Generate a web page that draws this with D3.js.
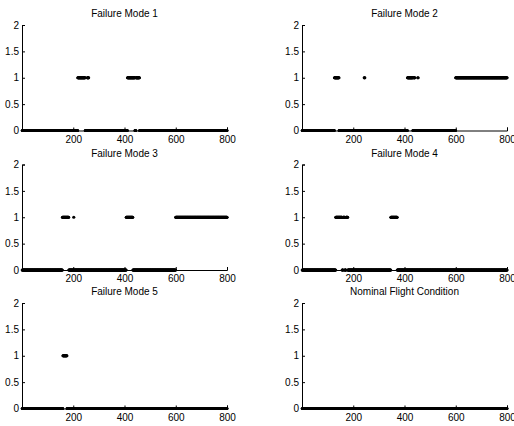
<!DOCTYPE html>
<html>
<head>
<meta charset="utf-8">
<script src="https://cdn.jsdelivr.net/npm/d3@7"></script>
<style>
  body { margin: 0; background: #fff; }
  svg { display: block; font-family: Arial, "Liberation Sans", sans-serif; }
</style>
</head>
<body>
<div id="chart"></div>
<script>
// samples 1..800, each is 0 or 1 ; ranges below are where the value reads 1
var sampleCount = 800;
var titles = ["Failure Mode 1", "Failure Mode 2", "Failure Mode 3",
              "Failure Mode 4", "Failure Mode 5", "Nominal Flight Condition"];
var mode1On = [[218, 246], [255, 260], [412, 440], [445, 458]];
var mode2On = [[127, 144], [243, 245], [412, 432], [436, 440], [452, 453], [600, 800]];
var mode3On = [[158, 182], [202, 202], [407, 432], [600, 800]];
var mode4On = [[132, 156], [161, 166], [172, 178], [347, 371]];
var mode5On = [[160, 175]];
var nominalOn = [];
var xTicks = [200, 400, 600, 800];
var yTicks = [0, 0.5, 1, 1.5, 2];

var width = 514, height = 426;
var colX = [22, 302], plotW = 205;
var rowY = [25, 164.5, 303], plotH = 105.5;

var svg = d3.select("#chart").append("svg")
  .attr("width", width)
  .attr("height", height);

function series(ranges) {
  var out = [];
  for (var i = 1; i <= sampleCount; i++) {
    var on = ranges.some(function (r) { return i >= r[0] && i <= r[1]; });
    out.push({ x: i, y: on ? 1 : 0 });
  }
  return out;
}

var allModes = [mode1On, mode2On, mode3On, mode4On, mode5On, nominalOn];

allModes.forEach(function (ranges, k) {
  var left = colX[k % 2], top = rowY[Math.floor(k / 2)];
  var x = d3.scaleLinear().domain([0, sampleCount]).range([0, plotW]);
  var y = d3.scaleLinear().domain([0, 2]).range([plotH, 0]);

  var g = svg.append("g").attr("transform", "translate(" + left + "," + top + ")");

  g.append("text")
    .attr("x", plotW / 2)
    .attr("y", -8)
    .attr("text-anchor", "middle")
    .attr("font-size", 10)
    .text(titles[k]);

  var xAxis = g.append("g")
    .attr("transform", "translate(0," + plotH + ")")
    .call(d3.axisBottom(x).tickValues(xTicks).tickSize(-3).tickPadding(5).tickFormat(d3.format("d")));
  var yAxis = g.append("g")
    .call(d3.axisLeft(y).tickValues(yTicks).tickSize(-3).tickPadding(3).tickFormat(d3.format("")));

  [xAxis, yAxis].forEach(function (a) {
    a.select(".domain").attr("stroke", "#000").attr("stroke-width", 1);
    a.selectAll(".tick line").attr("stroke", "#000");
    a.selectAll("text").attr("font-size", 10).attr("fill", "#000")
      .attr("font-family", "Arial, 'Liberation Sans', sans-serif");
  });

  g.selectAll(".pt")
    .data(series(ranges))
    .enter().append("circle")
    .attr("class", "pt")
    .attr("cx", function (d) { return x(d.x); })
    .attr("cy", function (d) { return y(d.y); })
    .attr("r", 1.6)
    .attr("fill", "#000");
});
</script>
</body>
</html>
